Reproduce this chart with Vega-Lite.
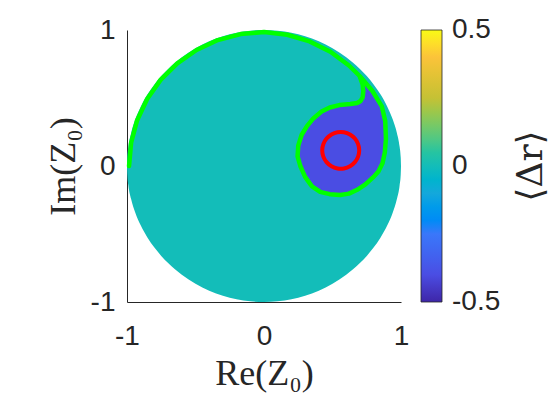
{
  "$schema": "https://vega.github.io/schema/vega-lite/v6.json",
  "width": 274,
  "height": 272,
  "autosize": {"type": "none"},
  "padding": {"left": 127, "top": 30, "right": 149, "bottom": 98},
  "background": "white",
  "config": {
    "view": {"stroke": null},
    "axis": {
      "grid": false,
      "ticks": false,
      "domainColor": "#262626",
      "domainWidth": 1,
      "labelFont": "Liberation Sans",
      "labelFontSize": 28,
      "labelColor": "#262626",
      "labelFlush": false,
      "labelOverlap": false,
      "titleFont": "Liberation Serif",
      "titleFontSize": 36,
      "titleFontWeight": "normal",
      "titleColor": "#262626"
    },
    "axisX": {"labelPadding": 20, "titlePadding": 6},
    "axisY": {"labelPadding": 12, "titlePadding": 8}
  },
  "datasets": {
    "disk": [
      {"x": -1, "ylo": 0, "yhi": 0, "dr": 0},
      {"x": -0.998, "ylo": -0.063, "yhi": 0.063, "dr": 0},
      {"x": -0.99, "ylo": -0.141, "yhi": 0.141, "dr": 0},
      {"x": -0.97, "ylo": -0.243, "yhi": 0.243, "dr": 0},
      {"x": -0.94, "ylo": -0.341, "yhi": 0.341, "dr": 0},
      {"x": -0.9, "ylo": -0.436, "yhi": 0.436, "dr": 0},
      {"x": -0.85, "ylo": -0.527, "yhi": 0.527, "dr": 0},
      {"x": -0.8, "ylo": -0.6, "yhi": 0.6, "dr": 0},
      {"x": -0.75, "ylo": -0.661, "yhi": 0.661, "dr": 0},
      {"x": -0.7, "ylo": -0.714, "yhi": 0.714, "dr": 0},
      {"x": -0.6, "ylo": -0.8, "yhi": 0.8, "dr": 0},
      {"x": -0.5, "ylo": -0.866, "yhi": 0.866, "dr": 0},
      {"x": -0.4, "ylo": -0.917, "yhi": 0.917, "dr": 0},
      {"x": -0.3, "ylo": -0.954, "yhi": 0.954, "dr": 0},
      {"x": -0.2, "ylo": -0.98, "yhi": 0.98, "dr": 0},
      {"x": -0.1, "ylo": -0.995, "yhi": 0.995, "dr": 0},
      {"x": 0, "ylo": -1, "yhi": 1, "dr": 0},
      {"x": 0.1, "ylo": -0.995, "yhi": 0.995, "dr": 0},
      {"x": 0.2, "ylo": -0.98, "yhi": 0.98, "dr": 0},
      {"x": 0.3, "ylo": -0.954, "yhi": 0.954, "dr": 0},
      {"x": 0.4, "ylo": -0.917, "yhi": 0.917, "dr": 0},
      {"x": 0.5, "ylo": -0.866, "yhi": 0.866, "dr": 0},
      {"x": 0.6, "ylo": -0.8, "yhi": 0.8, "dr": 0},
      {"x": 0.7, "ylo": -0.714, "yhi": 0.714, "dr": 0},
      {"x": 0.75, "ylo": -0.661, "yhi": 0.661, "dr": 0},
      {"x": 0.8, "ylo": -0.6, "yhi": 0.6, "dr": 0},
      {"x": 0.85, "ylo": -0.527, "yhi": 0.527, "dr": 0},
      {"x": 0.9, "ylo": -0.436, "yhi": 0.436, "dr": 0},
      {"x": 0.94, "ylo": -0.341, "yhi": 0.341, "dr": 0},
      {"x": 0.97, "ylo": -0.243, "yhi": 0.243, "dr": 0},
      {"x": 0.99, "ylo": -0.141, "yhi": 0.141, "dr": 0},
      {"x": 0.998, "ylo": -0.063, "yhi": 0.063, "dr": 0},
      {"x": 1, "ylo": 0, "yhi": 0, "dr": 0}
    ],
    "drop": [
      {"y": -0.213, "xl": 0.555, "xr": 0.555, "dr": -0.4},
      {"y": -0.205, "xl": 0.47, "xr": 0.625, "dr": -0.4},
      {"y": -0.19, "xl": 0.41, "xr": 0.67, "dr": -0.4},
      {"y": -0.16, "xl": 0.36, "xr": 0.715, "dr": -0.4},
      {"y": -0.12, "xl": 0.325, "xr": 0.76, "dr": -0.4},
      {"y": -0.08, "xl": 0.3, "xr": 0.8, "dr": -0.4},
      {"y": -0.02, "xl": 0.27, "xr": 0.845, "dr": -0.4},
      {"y": 0.05, "xl": 0.245, "xr": 0.875, "dr": -0.4},
      {"y": 0.12, "xl": 0.242, "xr": 0.885, "dr": -0.4},
      {"y": 0.2, "xl": 0.262, "xr": 0.89, "dr": -0.4},
      {"y": 0.28, "xl": 0.305, "xr": 0.887, "dr": -0.4},
      {"y": 0.35, "xl": 0.36, "xr": 0.878, "dr": -0.4},
      {"y": 0.4, "xl": 0.42, "xr": 0.87, "dr": -0.4},
      {"y": 0.43, "xl": 0.48, "xr": 0.862, "dr": -0.4},
      {"y": 0.448, "xl": 0.55, "xr": 0.857, "dr": -0.4},
      {"y": 0.456, "xl": 0.63, "xr": 0.853, "dr": -0.4},
      {"y": 0.463, "xl": 0.68, "xr": 0.849, "dr": -0.4},
      {"y": 0.478, "xl": 0.705, "xr": 0.84, "dr": -0.4},
      {"y": 0.505, "xl": 0.72, "xr": 0.819, "dr": -0.4},
      {"y": 0.55, "xl": 0.725, "xr": 0.792, "dr": -0.4},
      {"y": 0.6, "xl": 0.72, "xr": 0.75, "dr": -0.4},
      {"y": 0.655, "xl": 0.7, "xr": 0.704, "dr": -0.4}
    ],
    "green": [
      {"k": 0, "x": -0.985, "y": 0},
      {"k": 1, "x": -0.97, "y": 0.171},
      {"k": 2, "x": -0.926, "y": 0.337},
      {"k": 3, "x": -0.853, "y": 0.4925},
      {"k": 4, "x": -0.755, "y": 0.633},
      {"k": 5, "x": -0.633, "y": 0.755},
      {"k": 6, "x": -0.4925, "y": 0.853},
      {"k": 7, "x": -0.337, "y": 0.926},
      {"k": 8, "x": -0.171, "y": 0.97},
      {"k": 9, "x": 0, "y": 0.985},
      {"k": 10, "x": 0.17, "y": 0.965},
      {"k": 11, "x": 0.333, "y": 0.916},
      {"k": 12, "x": 0.485, "y": 0.84},
      {"k": 13, "x": 0.62, "y": 0.739},
      {"k": 14, "x": 0.7, "y": 0.66},
      {"k": 15, "x": 0.79, "y": 0.553},
      {"k": 16, "x": 0.86, "y": 0.438},
      {"k": 17, "x": 0.885, "y": 0.33},
      {"k": 18, "x": 0.89, "y": 0.2},
      {"k": 19, "x": 0.882, "y": 0.1},
      {"k": 20, "x": 0.865, "y": 0.02},
      {"k": 21, "x": 0.835, "y": -0.04},
      {"k": 22, "x": 0.8, "y": -0.08},
      {"k": 23, "x": 0.74, "y": -0.135},
      {"k": 24, "x": 0.68, "y": -0.175},
      {"k": 25, "x": 0.62, "y": -0.203},
      {"k": 26, "x": 0.555, "y": -0.213},
      {"k": 27, "x": 0.48, "y": -0.207},
      {"k": 28, "x": 0.41, "y": -0.19},
      {"k": 29, "x": 0.35, "y": -0.15},
      {"k": 30, "x": 0.3, "y": -0.08},
      {"k": 31, "x": 0.265, "y": 0},
      {"k": 32, "x": 0.245, "y": 0.07},
      {"k": 33, "x": 0.25, "y": 0.15},
      {"k": 34, "x": 0.275, "y": 0.23},
      {"k": 35, "x": 0.315, "y": 0.295},
      {"k": 36, "x": 0.36, "y": 0.35},
      {"k": 37, "x": 0.42, "y": 0.4},
      {"k": 38, "x": 0.48, "y": 0.43},
      {"k": 39, "x": 0.55, "y": 0.448},
      {"k": 40, "x": 0.63, "y": 0.456},
      {"k": 41, "x": 0.68, "y": 0.463},
      {"k": 42, "x": 0.705, "y": 0.478},
      {"k": 43, "x": 0.72, "y": 0.505},
      {"k": 44, "x": 0.725, "y": 0.55},
      {"k": 45, "x": 0.72, "y": 0.6},
      {"k": 46, "x": 0.7, "y": 0.655}
    ],
    "red": [
      {"k": 0, "x": 0.695, "y": 0.115},
      {"k": 1, "x": 0.6869, "y": 0.1612},
      {"k": 2, "x": 0.6634, "y": 0.2018},
      {"k": 3, "x": 0.6275, "y": 0.2319},
      {"k": 4, "x": 0.5834, "y": 0.248},
      {"k": 5, "x": 0.5366, "y": 0.248},
      {"k": 6, "x": 0.4925, "y": 0.2319},
      {"k": 7, "x": 0.4566, "y": 0.2018},
      {"k": 8, "x": 0.4331, "y": 0.1612},
      {"k": 9, "x": 0.425, "y": 0.115},
      {"k": 10, "x": 0.4331, "y": 0.0688},
      {"k": 11, "x": 0.4566, "y": 0.0282},
      {"k": 12, "x": 0.4925, "y": -0.0019},
      {"k": 13, "x": 0.5366, "y": -0.018},
      {"k": 14, "x": 0.5834, "y": -0.018},
      {"k": 15, "x": 0.6275, "y": -0.0019},
      {"k": 16, "x": 0.6634, "y": 0.0282},
      {"k": 17, "x": 0.6869, "y": 0.0688}
    ]
  },
  "layer": [
    {
      "data": {"name": "disk"},
      "mark": {"type": "area", "orient": "vertical", "interpolate": "monotone"},
      "encoding": {
        "x": {"field": "x", "type": "quantitative", "title": "Re(Z₀)", "scale": {"domain": [-1, 1], "nice": false, "zero": false}, "axis": {"values": [-1, 0, 1], "labelExpr": "'' + datum.value"}},
        "y": {"field": "ylo", "type": "quantitative", "title": "Im(Z₀)", "scale": {"domain": [-1, 1], "nice": false, "zero": false}, "axis": {"values": [-1, 0, 1], "labelExpr": "'' + datum.value"}},
        "y2": {"field": "yhi"},
        "color": {
          "field": "dr",
          "type": "quantitative",
          "scale": {
            "domain": [-0.5, -0.4, -0.25, -0.1, 0, 0.1, 0.25, 0.4, 0.5],
            "range": ["#3E26A8", "#4A4DE3", "#3A77FA", "#14A8DB", "#13BDB9", "#51C883", "#C5C135", "#FBC33A", "#F9FB15"]
          },
          "legend": {
            "orient": "right",
            "offset": 20,
            "padding": 0,
            "gradientLength": 272,
            "gradientThickness": 21,
            "gradientStrokeColor": "#262626",
            "gradientStrokeWidth": 0.8,
            "labelFont": "Liberation Sans",
            "labelFontSize": 28,
            "labelColor": "#262626",
            "labelOffset": 10,
            "labelBaseline": "middle",
            "labelOverlap": false,
            "values": [-0.5, 0, 0.5],
            "labelExpr": "'' + datum.value",
            "title": "⟨Δr⟩",
            "titleOrient": "right",
            "titleAnchor": "middle",
            "titleFont": "DejaVu Serif",
            "titleFontSize": 36,
            "titleFontWeight": "normal",
            "titleColor": "#262626",
            "titlePadding": 50,
            "encode": {
              "title": {"update": {"angle": {"value": -90}}},
              "labels": {"update": {"baseline": {"value": "middle"}}}
            }
          }
        }
      }
    },
    {
      "data": {"name": "drop"},
      "mark": {"type": "area", "orient": "horizontal", "interpolate": "linear"},
      "encoding": {
        "y": {"field": "y", "type": "quantitative", "title": "Im(Z₀)"},
        "x": {"field": "xl", "type": "quantitative", "title": "Re(Z₀)"},
        "x2": {"field": "xr"},
        "color": {"field": "dr", "type": "quantitative"}
      }
    },
    {
      "data": {"name": "green"},
      "mark": {"type": "line", "interpolate": "linear", "strokeWidth": 4.5, "color": "#00FF00", "strokeCap": "round", "strokeJoin": "round"},
      "encoding": {
        "x": {"field": "x", "type": "quantitative", "title": "Re(Z₀)"},
        "y": {"field": "y", "type": "quantitative", "title": "Im(Z₀)"},
        "order": {"field": "k", "type": "quantitative"}
      }
    },
    {
      "data": {"name": "red"},
      "mark": {"type": "line", "interpolate": "cardinal-closed", "strokeWidth": 4, "color": "#FF0000"},
      "encoding": {
        "x": {"field": "x", "type": "quantitative", "title": "Re(Z₀)"},
        "y": {"field": "y", "type": "quantitative", "title": "Im(Z₀)"},
        "order": {"field": "k", "type": "quantitative"}
      }
    }
  ]
}
